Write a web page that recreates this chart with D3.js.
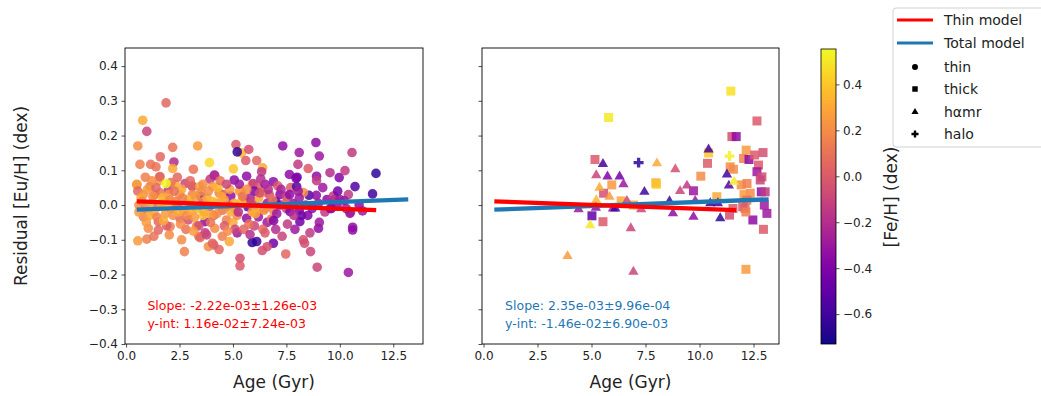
<!DOCTYPE html>
<html><head><meta charset="utf-8">
<script src="https://cdn.jsdelivr.net/npm/d3@7"></script>
<style>body{margin:0;background:#fff;font-family:"DejaVu Sans",sans-serif;}</style>
</head><body><svg id="c" width="1041" height="396"></svg>
<script>
// ---------- DATA ----------
// [age (Gyr), residual [Eu/H] (dex), [Fe/H] (dex)]
const thinStars = [
[1.87,0.294,0.05],[0.78,0.244,0.3],[0.97,0.212,-0.1],[0.55,0.17,0.2],[3.35,0.17,0.25],[2.18,0.166,0.1],[1.6,0.139,0.05],[2.24,0.124,-0.2],[0.65,0.117,0.15],[1.15,0.117,0.1],[1.4,0.11,0.1],[2.18,0.105,0.3],[3.15,0.103,0.1],[3.9,0.122,0.45],[5.02,0.104,0.4],[5.14,0.174,0.0],[5.4,0.15,0.35],[5.74,0.16,-0.05],[5.6,0.128,0.0],[6.11,0.128,0.05],[6.39,0.107,0.3],[7.33,0.17,-0.35],[8.1,0.151,-0.3],[8.88,0.18,-0.35],[9.04,0.141,-0.3],[10.57,0.151,-0.15],[8.04,0.117,-0.15],[8.52,0.105,0.0],[7.64,0.088,-0.35],[8.0,0.08,-0.45],[8.91,0.083,-0.35],[9.54,0.093,-0.2],[9.97,0.079,-0.4],[10.24,0.099,-0.15],[11.69,0.091,-0.65],[10.71,0.053,-0.55],[11.53,0.032,-0.6],[8.56,0.028,-0.55],[8.9,0.028,-0.35],[9.77,0.016,-0.4],[10.4,0.03,-0.15],[10.2,0.013,-0.3],[9.87,-0.003,-0.35],[10.5,-0.021,-0.15],[11.06,-0.017,-0.3],[10.6,-0.064,-0.35],[10.6,-0.072,-0.35],[10.4,-0.194,-0.3],[8.94,-0.179,-0.1],[8.63,-0.134,-0.1],[8.6,-0.08,-0.15],[9.0,-0.067,-0.35],[8.29,-0.1,-0.05],[8.2,-0.03,-0.5],[7.47,-0.141,0.05],[6.89,-0.11,-0.45],[6.37,-0.131,-0.05],[6.6,-0.12,-0.05],[6.11,-0.105,-0.6],[5.9,-0.108,-0.65],[5.33,-0.153,-0.05],[5.33,-0.175,0.0],[4.35,-0.128,0.05],[4.1,-0.115,0.0],[3.85,-0.12,0.2],[4.83,-0.105,0.3],[2.73,-0.134,0.15],[2.02,-0.086,0.2],[0.55,-0.103,0.25],[0.97,-0.098,0.15],[3.4,-0.09,0.1],[3.7,-0.08,-0.15],[5.2,-0.08,-0.3],
[3.46,-0.094,0.05],[3.77,-0.086,-0.1],[4.04,-0.11,0.05],[0.81,-0.034,0.15],[1.04,-0.067,0.2],[1.51,-0.048,0.05],[1.51,-0.072,0.05],[2.06,-0.062,0.15],[2.52,-0.038,0.05],[2.91,-0.043,-0.05],[3.3,-0.06,0.15],[3.69,-0.048,-0.35],[3.6,-0.03,0.4],[4.1,-0.03,-0.05],[4.7,-0.043,0.15],[5.0,-0.05,0.3],[5.2,-0.03,0.2],[5.64,-0.038,-0.35],[6.19,-0.034,-0.3],[6.6,-0.05,-0.3],[6.4,-0.07,0.05],[4.6,-0.06,0.0],[4.15,-0.067,0.2],[5.1,-0.07,-0.1],
[1.56,0.08,0.1],[1.56,0.07,0.25],[0.51,0.06,0.25],[2.76,0.062,-0.1],[3.1,0.055,0.05],[3.93,0.074,-0.15],[4.13,0.086,-0.3],[5.06,0.072,-0.35],[5.64,0.083,-0.35],[6.34,0.096,-0.15],[6.89,0.067,-0.35],[5.9,0.06,0.3],
[0.5,0.058,0.25],[0.55,0.04,0.05],[0.8,0.03,0.2],[1.12,0.053,0.1],[1.35,0.03,0.15],[1.59,0.082,0.05],[1.6,0.035,0.1],[1.99,0.045,-0.15],[2.3,0.058,0.3],[2.5,0.03,0.2],[3.1,0.053,0.0],[3.45,0.053,0.3],[3.1,0.03,0.15],[3.5,0.025,-0.35],[4.15,0.085,-0.2],[4.05,0.053,0.25],[4.35,0.035,0.15],[4.55,0.03,0.0],[4.9,0.026,-0.35],[5.4,0.036,0.4],[5.95,0.062,-0.15],[6.2,0.05,0.0],[6.4,0.036,0.25],[6.7,0.03,-0.05],[7.2,0.03,-0.35],[7.5,0.025,-0.1],[7.7,0.05,0.0],[7.98,0.053,-0.55],[8.3,0.036,0.2],[8.1,0.02,-0.3],[9.4,0.016,-0.35],[9.7,0.026,-0.15],[10.0,0.016,-0.3],
[0.6,0.0,0.2],[0.9,-0.01,0.15],[1.2,0.005,0.25],[1.5,-0.005,0.1],[1.8,0.01,0.2],[2.1,-0.01,0.3],[2.4,0.0,0.05],[2.7,-0.015,0.25],[3.0,0.005,0.15],[3.3,-0.01,0.35],[3.6,0.01,0.2],[3.9,-0.005,0.0],[4.2,0.005,0.25],[4.5,-0.015,0.1],[4.8,0.0,-0.3],[5.1,-0.01,0.2],[5.4,0.01,0.35],[5.7,-0.005,-0.5],[6.0,0.0,0.1],[6.3,-0.01,0.25],[6.6,0.005,-0.3],[6.9,-0.015,0.15],[7.2,0.0,-0.35],[7.5,-0.01,-0.1],[7.8,0.005,-0.3],[8.1,-0.015,-0.4],[8.4,0.0,-0.2],[8.7,-0.01,-0.35],[9.0,0.005,-0.3],[9.3,-0.02,-0.15],[9.6,-0.01,-0.4],[10.3,-0.01,-0.3],
[8.35,-0.11,-0.05],[9.04,-0.05,-0.3],[8.13,-0.048,-0.45],[8.5,-0.03,-0.4],[10.47,-0.024,-0.3],[9.55,-0.01,-0.35],[7.67,-0.019,-0.4],[6.5,-0.01,0.2],[6.8,-0.04,0.1],[7.55,-0.055,-0.15],
[7.95,0.077,-0.4],[8.91,0.07,-0.15],[7.1,0.055,0.0],
[0.7,0.02,0.3],[1.0,0.045,0.25],[1.3,-0.02,0.3],[1.7,0.02,0.35],[2.0,0.03,0.25],[2.2,-0.03,0.2],[2.6,0.045,0.3],[2.9,0.015,0.35],[3.2,-0.035,0.25],[3.5,0.04,0.2],[3.8,0.02,0.3],[4.0,-0.03,0.3],[4.3,0.05,0.35],[4.6,0.015,0.25],[4.9,-0.02,0.3],[5.3,0.04,0.25],[5.6,0.015,0.3],[5.9,-0.02,0.25],[6.2,0.02,0.3],[2.3,0.01,0.15],[1.4,0.05,0.05],[3.0,0.07,0.05],[4.4,0.07,0.1],[0.9,0.08,0.15],[2.4,0.08,0.05],[1.9,-0.06,0.0],[2.8,-0.07,0.1],[3.4,-0.06,-0.05],[4.5,-0.09,0.15],[5.5,-0.07,0.05],[6.0,-0.06,-0.1],[6.5,-0.08,0.0],[7.0,-0.07,-0.2],[7.3,-0.09,-0.1],
[5.3,0.06,-0.3],[6.0,0.04,-0.4],[6.5,0.06,-0.3],[5.8,0.02,-0.25],[7.0,0.01,-0.45],[6.3,0.075,-0.2],
[0.6,-0.02,0.25],[0.75,0.01,0.2],[1.1,-0.03,0.3],[1.25,0.025,0.2],[1.45,-0.035,0.15],[1.65,0.0,0.3],[1.85,-0.025,0.25],[2.05,0.015,0.2],[2.25,0.04,0.1],[2.45,-0.02,0.3],[2.65,0.02,0.15],[2.85,-0.03,0.2],[3.05,-0.015,0.3],[3.25,0.025,0.25],[3.45,0.0,0.1],[3.65,-0.02,0.3],[3.85,0.04,0.2],[4.05,0.01,0.35],[4.25,-0.025,0.2],[4.45,0.025,0.3],[4.65,-0.005,0.2],[4.85,0.045,0.25],[5.05,0.005,0.3],[5.25,-0.02,-0.2],[5.45,0.025,0.1],[5.65,0.045,0.2],[5.85,0.005,-0.1],[6.05,-0.025,0.3],[6.25,0.035,-0.05],[6.45,-0.015,0.2],[6.65,0.045,-0.2],[6.85,0.015,0.1],[7.05,-0.025,-0.3],[7.25,0.045,-0.25],[7.45,0.005,0.05],[7.65,0.03,-0.35],[7.85,-0.03,-0.2],[8.05,0.04,-0.3],[0.95,-0.05,0.25],[1.75,-0.045,0.3],[2.55,-0.055,0.2],[3.15,-0.075,0.25],[3.95,-0.05,0.1],[4.75,-0.075,0.2],[5.75,-0.055,0.1],[1.2,0.07,0.2],[2.1,0.065,0.1],[3.6,0.06,0.2],[4.7,0.06,-0.1],[2.6,-0.1,0.2],[1.3,-0.09,0.1],[5.8,-0.085,-0.2],[6.9,-0.045,-0.4],[7.9,-0.07,-0.3],[9.2,0.05,-0.3],[9.9,0.04,-0.45],[10.9,0.0,-0.35],
[1.87,0.062,0.55],[5.2,0.153,-0.65]
];
const thickStars = [
[5.79,0.252,0.5],[11.45,0.328,0.48],[12.66,0.242,0.0],[11.5,0.197,-0.05],[11.7,0.197,-0.35],[12.16,0.158,0.25],[12.04,0.134,0.15],[12.29,0.131,-0.35],[12.94,0.151,-0.05],[12.55,0.144,0.0],[12.73,0.115,0.0],[12.66,0.096,-0.3],[12.89,0.081,-0.05],[12.81,0.072,-0.1],[11.57,0.103,0.2],[11.42,0.11,0.2],[11.93,0.058,0.2],[12.2,0.062,0.15],[12.35,0.034,0.2],[12.06,0.03,0.25],[12.19,0.014,0.1],[12.86,0.038,-0.35],[13.04,0.038,-0.15],[13.0,0.0,-0.3],[13.12,-0.024,-0.3],[12.47,-0.043,-0.35],[12.96,-0.07,0.0],[12.11,-0.01,0.05],[12.0,-0.005,0.0],[11.39,-0.029,-0.05],[11.55,-0.01,0.0],[12.15,-0.02,0.15],[10.8,0.024,0.3],[10.06,0.083,0.2],[10.37,0.12,0.0],[9.72,0.041,-0.3],[7.98,0.064,0.3],[8.0,0.06,0.4],[5.94,0.058,0.25],[5.16,0.131,0.0],[5.56,0.034,-0.05],[6.37,0.012,0.3],[5.02,-0.031,-0.5],[5.53,-0.048,0.0],[12.15,-0.185,0.25],[6.94,0.0,0.25],[10.42,0.15,0.4]
];
const hamrStars = [
[5.53,0.118,-0.6],[5.22,0.086,-0.1],[5.74,0.082,-0.4],[6.3,0.082,-0.45],[6.48,0.06,-0.3],[5.37,0.05,0.3],[5.83,0.024,0.25],[5.22,0.014,0.35],[4.4,-0.012,-0.3],[5.2,-0.008,-0.35],[5.99,-0.01,-0.3],[6.1,-0.01,-0.6],[6.64,0.012,-0.1],[7.3,-0.012,-0.1],[7.45,0.038,-0.6],[8.03,0.12,0.3],[8.88,0.103,-0.05],[9.42,0.056,-0.15],[9.1,0.04,-0.1],[8.61,0.011,-0.6],[8.77,-0.024,-0.35],[9.72,-0.034,-0.35],[9.8,0.012,-0.3],[10.42,0.16,-0.6],[11.27,0.088,-0.6],[11.36,0.056,-0.55],[10.5,0.005,-0.65],[10.85,0.005,-0.6],[10.96,-0.038,-0.65],[4.94,-0.058,0.5],[6.82,-0.067,-0.1],[3.89,-0.147,0.25],[6.94,-0.192,-0.1],[11.6,0.067,0.5]
];
const haloStars = [[7.18,0.122,-0.65],[11.39,0.141,0.52]];

// linear models: [slope, intercept, ageMin, ageMax]
const thinModel = [-2.22e-3, 1.16e-2, 0.5, 11.7];
const totalModel = [2.35e-3, -1.46e-2, 0.5, 13.2];
const thinText = ["Slope: -2.22e-03±1.26e-03", "y-int: 1.16e-02±7.24e-03"];
const totalText = ["Slope: 2.35e-03±9.96e-04", "y-int: -1.46e-02±6.90e-03"];

const yTicks = [-0.4,-0.3,-0.2,-0.1,0.0,0.1,0.2,0.3,0.4];
const xTicks = [0,2.5,5,7.5,10,12.5];
const cTicks = [-0.6,-0.4,-0.2,0.0,0.2,0.4];
const legendLabels = ["Thin model","Total model","thin","thick","hαmr","halo"];

// ---------- DRAW ----------
const svg = d3.select("#c");
const txt = "#222";
const fmt = d3.format(".1f");
const color = d3.scaleSequential(d3.interpolatePlasma).domain([-0.73, 0.554]);
const y = d3.scaleLinear().domain([-0.4, 0.452]).range([344, 48]);
const xL = d3.scaleLinear().domain([-0.05, 13.89]).range([125, 423]);
const xR = d3.scaleLinear().domain([-0.07, 13.68]).range([482, 779]);

const sym = {
  circle: d3.symbol().type(d3.symbolCircle).size(Math.PI*4.8*4.8),
  square: d3.symbol().type(d3.symbolSquare).size(81),
  tri: d3.symbol().type(d3.symbolTriangle).size(46),
  plus: d3.symbol().type(d3.symbolCross).size(55)
};

function panel(x, showY, groups, text, textColor) {
  const g = svg.append("g");
  const clipId = "clip" + Math.round(x.range()[0]);
  svg.append("clipPath").attr("id", clipId).append("rect")
    .attr("x", x.range()[0]).attr("y", 48).attr("width", x.range()[1]-x.range()[0]).attr("height", 296);
  const pg = g.append("g").attr("clip-path", `url(#${clipId})`);
  groups.forEach(([data, s]) => {
    pg.selectAll(null).data(data).join("path")
      .attr("d", s)
      .attr("transform", d => `translate(${x(d[0])},${y(d[1])})`)
      .attr("fill", d => color(d[2]))
      .attr("fill-opacity", 0.85);
  });
  [[totalModel, "#1f77b4"], [thinModel, "red"]].forEach(([m, c]) => {
    const pts = [m[2], m[3]].map(a => [a, m[1] + m[0]*a]);
    pg.append("path").attr("d", d3.line().x(d => x(d[0])).y(d => y(d[1]))(pts))
      .attr("stroke", c).attr("stroke-width", 4.3).attr("fill", "none");
  });
  // axes
  const ax = g.append("g").attr("transform", "translate(0,344)")
    .call(d3.axisBottom(x).tickValues(xTicks).tickFormat(fmt).tickSizeOuter(0).tickSize(3.5).tickPadding(3.5));
  const ay = g.append("g").attr("transform", `translate(${x.range()[0]},0)`)
    .call(d3.axisLeft(y).tickValues(yTicks).tickFormat(showY ? fmt : "").tickSizeOuter(0).tickSize(3.5).tickPadding(3.5));
  [ax, ay].forEach(a => {
    a.select(".domain").remove();
    a.selectAll("line").attr("stroke", txt).attr("stroke-width", 0.8);
    a.selectAll("text").attr("fill", txt).style("font-size", "12px").style("font-family", "DejaVu Sans");
  });
  g.append("rect").attr("x", x.range()[0]).attr("y", 48)
    .attr("width", x.range()[1]-x.range()[0]).attr("height", 296)
    .attr("fill", "none").attr("stroke", "#000").attr("stroke-width", 0.9);
  g.append("text").attr("x", (x.range()[0]+x.range()[1])/2).attr("y", 388)
    .attr("text-anchor", "middle").attr("fill", txt).style("font-size", "17px").text("Age (Gyr)");
  text.forEach((t, i) => {
    g.append("text").attr("x", x(1.0)).attr("y", 310 + i*18)
      .attr("fill", textColor).style("font-size", "12.5px").text(t);
  });
}

panel(xL, true, [[thinStars, sym.circle]], thinText, "red");
panel(xR, false, [[thickStars, sym.square], [hamrStars, sym.tri], [haloStars, sym.plus]], totalText, "#1f77b4");

svg.append("text").attr("transform", "translate(27,196) rotate(-90)")
  .attr("text-anchor", "middle").attr("fill", txt).style("font-size", "17px").text("Residual [Eu/H] (dex)");

// colorbar
const cy = d3.scaleLinear().domain(color.domain()).range([344, 49]);
const defs = svg.append("defs");
const grad = defs.append("linearGradient").attr("id", "cb").attr("x1", 0).attr("y1", 1).attr("x2", 0).attr("y2", 0);
d3.range(0, 1.0001, 0.02).forEach(t => grad.append("stop").attr("offset", t)
  .attr("stop-color", d3.interpolatePlasma(t)));
svg.append("rect").attr("x", 821).attr("y", 49).attr("width", 15).attr("height", 295)
  .attr("fill", "url(#cb)").attr("stroke", "#000").attr("stroke-width", 0.8);
const cax = svg.append("g").attr("transform", "translate(836,0)")
  .call(d3.axisRight(cy).tickValues(cTicks).tickFormat(fmt).tickSize(3.5).tickPadding(3.5));
cax.select(".domain").remove();
cax.selectAll("line").attr("stroke", txt).attr("stroke-width", 0.8);
cax.selectAll("text").attr("fill", txt).style("font-size", "12px").style("font-family", "DejaVu Sans");
svg.append("text").attr("transform", "translate(897,197) rotate(-90)")
  .attr("text-anchor", "middle").attr("fill", txt).style("font-size", "17px").text("[Fe/H] (dex)");

// legend
const lg = svg.append("g");
lg.append("rect").attr("x", 893).attr("y", 8).attr("width", 160).attr("height", 139).attr("rx", 3)
  .attr("fill", "#fff").attr("fill-opacity", 0.85).attr("stroke", "#ccc").attr("stroke-width", 0.9);
const legY = [20, 43, 67, 89, 112, 134];
const lsym = [null, null,
  d3.symbol().type(d3.symbolCircle).size(28),
  d3.symbol().type(d3.symbolSquare).size(30),
  d3.symbol().type(d3.symbolTriangle).size(22),
  d3.symbol().type(d3.symbolCross).size(28)];
legendLabels.forEach((l, i) => {
  if (i < 2) {
    lg.append("line").attr("x1", 897).attr("x2", 933).attr("y1", legY[i]).attr("y2", legY[i])
      .attr("stroke", i === 0 ? "red" : "#1f77b4").attr("stroke-width", 3);
  } else {
    lg.append("path").attr("d", lsym[i]).attr("transform", `translate(915,${legY[i]})`).attr("fill", "#000");
  }
  lg.append("text").attr("x", 944).attr("y", legY[i] + 5).attr("fill", txt)
    .style("font-size", "14px").text(l);
});
</script></body></html>
